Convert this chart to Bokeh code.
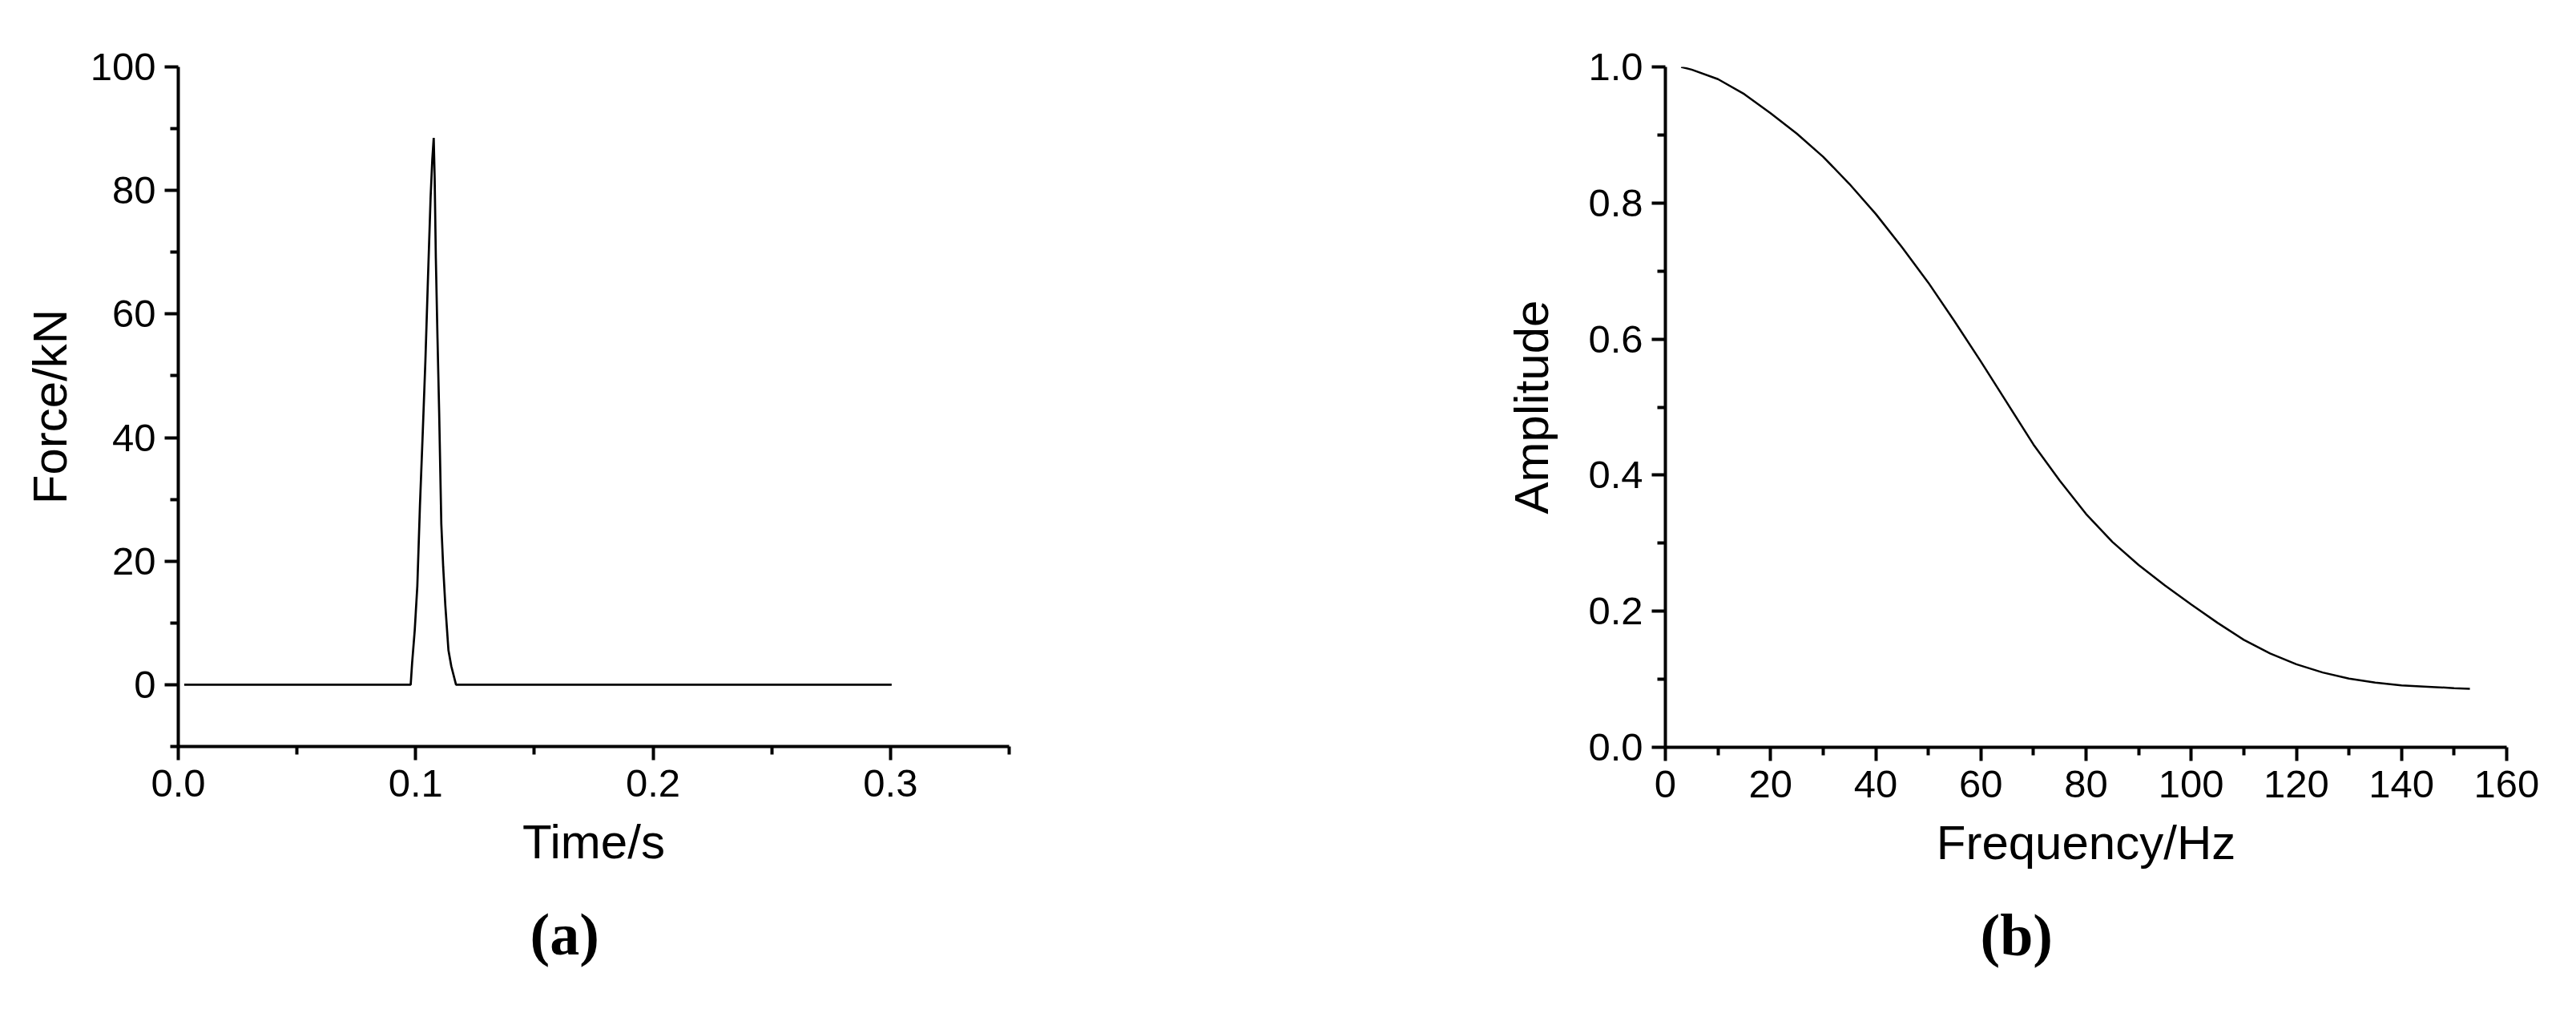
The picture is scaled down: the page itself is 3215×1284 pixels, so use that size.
from bokeh.plotting import figure
from bokeh.layouts import row
from bokeh.models import FixedTicker, Range1d, Title, CustomJSTickFormatter
from bokeh.embed import file_html
from bokeh.resources import INLINE

# ---- data (a): impact force pulse ----
time_s = [0.0025, 0.0979, 0.0985, 0.0996, 0.1007, 0.1018, 0.1030, 0.1041, 0.1052,
          0.1063, 0.1070, 0.1076, 0.1080, 0.1085, 0.1092, 0.1099, 0.1108, 0.1116,
          0.1125, 0.1138, 0.1150, 0.1170, 0.3005]
force_kn = [0, 0, 3.5, 8.8, 16, 29, 41, 52.5, 66,
            79, 85, 88.5, 82, 69, 56, 44, 26, 19,
            12.8, 5.6, 3, 0, 0]

# ---- data (b): amplitude spectrum ----
freq_hz = [3, 5, 10, 15, 20, 25, 30, 35, 40, 45, 50, 55, 60, 65, 70, 75, 80,
           85, 90, 95, 100, 105, 110, 115, 120, 125, 130, 135, 140, 145, 150, 153]
amplitude = [1.0, 0.996, 0.982, 0.960, 0.932, 0.902, 0.868, 0.828, 0.784, 0.735,
             0.683, 0.626, 0.567, 0.506, 0.445, 0.392, 0.343, 0.302, 0.268, 0.238,
             0.210, 0.183, 0.158, 0.138, 0.122, 0.110, 0.101, 0.095, 0.091, 0.089,
             0.087, 0.086]

# ---- ticks ----
a_xticks = [0.0, 0.1, 0.2, 0.3]
a_xminor = [0.05, 0.15, 0.25, 0.35]
a_yticks = [0, 20, 40, 60, 80, 100]
a_yminor = [-10, 10, 30, 50, 70, 90]
b_xticks = [0, 20, 40, 60, 80, 100, 120, 140, 160]
b_xminor = [10, 30, 50, 70, 90, 110, 130, 150]
b_yticks = [0.0, 0.2, 0.4, 0.6, 0.8, 1.0]
b_yminor = [0.1, 0.3, 0.5, 0.7, 0.9]

FONT = "Liberation Sans"


def style_axes(p, ylab_standoff):
    for ax in (p.xaxis[0], p.yaxis[0]):
        ax.axis_line_width = 4
        ax.axis_line_color = "black"
        ax.major_tick_line_width = 4
        ax.minor_tick_line_width = 4
        ax.major_tick_line_color = "black"
        ax.minor_tick_line_color = "black"
        ax.major_tick_in = 0
        ax.minor_tick_in = 0
        ax.major_tick_out = 17
        ax.minor_tick_out = 10
        ax.major_label_text_font = FONT
        ax.major_label_text_font_size = "49px"
        ax.major_label_text_color = "black"
        ax.axis_label_text_font = FONT
        ax.axis_label_text_font_size = "60px"
        ax.axis_label_text_font_style = "normal"
        ax.axis_label_text_color = "black"
    p.xaxis[0].major_label_standoff = 12
    p.yaxis[0].major_label_standoff = 11
    p.xaxis[0].axis_label_standoff = 20
    p.yaxis[0].axis_label_standoff = ylab_standoff
    p.xgrid.visible = False
    p.ygrid.visible = False
    p.outline_line_color = None
    p.background_fill_color = "white"
    p.border_fill_color = "white"


def panel_title(text, offset):
    return Title(text=text, align="left", offset=offset, standoff=72,
                 text_font="Liberation Serif", text_font_size="74px",
                 text_font_style="bold", text_color="black")


# ---------- panel (a) ----------
p1 = figure(frame_width=1037, frame_height=848,
            min_border_left=222, min_border_right=433,
            min_border_top=83, min_border_bottom=0,
            x_range=Range1d(0, 0.35), y_range=Range1d(-10, 100),
            toolbar_location=None, output_backend="svg",
            x_axis_label="Time/s", y_axis_label="Force/kN")
p1.line(time_s, force_kn, line_color="black", line_width=2.7)
p1.xaxis[0].ticker = FixedTicker(ticks=a_xticks, minor_ticks=a_xminor)
p1.yaxis[0].ticker = FixedTicker(ticks=a_yticks, minor_ticks=a_yminor)
p1.xaxis[0].formatter = CustomJSTickFormatter(code="return tick.toFixed(1);")
p1.yaxis[0].formatter = CustomJSTickFormatter(code="return tick.toFixed(0);")
style_axes(p1, 14)
p1.add_layout(panel_title("(a)", 439), "below")

# ---------- panel (b) ----------
p2 = figure(frame_width=1050, frame_height=849,
            min_border_left=386, min_border_right=71,
            min_border_top=83, min_border_bottom=0,
            x_range=Range1d(0, 160), y_range=Range1d(0, 1.0),
            toolbar_location=None, output_backend="svg",
            x_axis_label="Frequency/Hz", y_axis_label="Amplitude")
p2.line(freq_hz, amplitude, line_color="black", line_width=2.5)
p2.xaxis[0].ticker = FixedTicker(ticks=b_xticks, minor_ticks=b_xminor)
p2.yaxis[0].ticker = FixedTicker(ticks=b_yticks, minor_ticks=b_yminor)
p2.xaxis[0].formatter = CustomJSTickFormatter(code="return tick.toFixed(0);")
p2.yaxis[0].formatter = CustomJSTickFormatter(code="return tick.toFixed(1);")
style_axes(p2, 34)
p2.add_layout(panel_title("(b)", 393), "below")

layout = row(p1, p2)
open("out.html", "w").write(file_html(layout, INLINE))
